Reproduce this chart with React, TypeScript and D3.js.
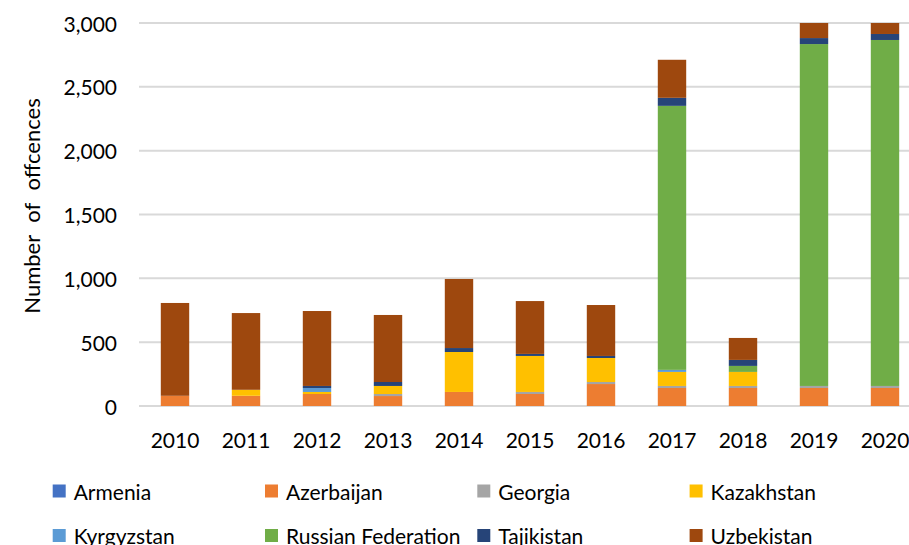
import React, { useEffect, useRef } from "react";
import * as d3 from "d3";

const years = ["2010", "2011", "2012", "2013", "2014", "2015", "2016", "2017", "2018", "2019", "2020"];
const countries = ["Armenia", "Azerbaijan", "Georgia", "Kazakhstan", "Kyrgyzstan", "Russian Federation", "Tajikistan", "Uzbekistan"];
const colors = ["#4472C4", "#ED7D31", "#A5A5A5", "#FFC000", "#5B9BD5", "#70AD47", "#264478", "#9E480E"];

const armenia = [0, 0, 0, 0, 0, 0, 0, 0, 0, 0, 0];
const azerbaijan = [80, 80, 94, 78, 110, 94, 172, 141, 141, 141, 141];
const georgia = [0, 0, 0, 16, 0, 16, 16, 16, 16, 16, 16];
const kazakhstan = [0, 47, 16, 63, 313, 282, 188, 110, 110, 0, 0];
const kyrgyzstan = [0, 0, 31, 0, 0, 0, 0, 16, 0, 0, 0];
const russia = [0, 0, 0, 0, 0, 0, 0, 2068, 47, 2678, 2710];
const tajikistan = [0, 0, 16, 31, 31, 16, 16, 63, 47, 47, 47];
const uzbekistan = [727, 601, 587, 525, 541, 414, 399, 298, 172, 150, 120];

const series = [armenia, azerbaijan, georgia, kazakhstan, kyrgyzstan, russia, tajikistan, uzbekistan];
const yTicks = [0, 500, 1000, 1500, 2000, 2500, 3000];

const width = 909;
const height = 545;
const font = "Lato, 'Open Sans', sans-serif";

const App = () => {
  const chart = useRef<SVGSVGElement>(null);

  useEffect(() => {
    const svg = d3.select(chart.current);
    svg.selectAll("*").remove();

    const rows = years.map((year, i) => {
      const row: any = { year };
      countries.forEach((c, j) => (row[c] = series[j][i]));
      return row;
    });
    const stacked = d3.stack().keys(countries)(rows);

    const x = d3.scaleBand().domain(years).range([139.5, 920.5]).paddingInner(0.6).paddingOuter(0.3);
    const y = d3.scaleLinear().domain([0, 3000]).range([406, 23]);

    svg
      .append("defs")
      .append("clipPath")
      .attr("id", "plot-clip")
      .append("rect")
      .attr("x", 0)
      .attr("y", y(3000))
      .attr("width", width)
      .attr("height", y(0) - y(3000));

    // gridlines
    svg
      .append("g")
      .selectAll("line")
      .data(yTicks)
      .join("line")
      .attr("x1", 139)
      .attr("x2", width)
      .attr("y1", d => y(d))
      .attr("y2", d => y(d))
      .attr("stroke", "#D9D9D9")
      .attr("stroke-width", 2);

    // y labels
    svg
      .append("g")
      .selectAll("text")
      .data(yTicks)
      .join("text")
      .attr("x", 117)
      .attr("y", d => y(d))
      .attr("text-anchor", "end")
      .attr("dominant-baseline", "central")
      .attr("font-family", font)
      .attr("font-size", 21)
      .attr("fill", "#000")
      .text(d => d3.format(",")(d));

    svg
      .append("text")
      .attr("transform", `translate(40,206) rotate(-90)`)
      .attr("text-anchor", "middle")
      .attr("font-family", font)
      .attr("font-size", 22)
      .attr("word-spacing", 7)
      .attr("fill", "#000")
      .text("Number of offcences");

    // bars
    svg
      .append("g")
      .attr("clip-path", "url(#plot-clip)")
      .selectAll("g")
      .data(stacked)
      .join("g")
      .attr("fill", (d, i) => colors[i])
      .selectAll("rect")
      .data(d => d)
      .join("rect")
      .attr("x", d => x(d.data.year as any) as number)
      .attr("width", x.bandwidth())
      .attr("y", d => y(d[1]))
      .attr("height", d => y(d[0]) - y(d[1]));

    // x labels
    svg
      .append("g")
      .selectAll("text")
      .data(years)
      .join("text")
      .attr("x", d => (x(d) as number) + x.bandwidth() / 2)
      .attr("y", 439)
      .attr("text-anchor", "middle")
      .attr("dominant-baseline", "central")
      .attr("font-family", font)
      .attr("font-size", 21)
      .attr("fill", "#000")
      .text(d => d);

    // legend (second row is cut by the bottom edge, as in the original)
    const legend = svg
      .append("g")
      .selectAll("g")
      .data(countries)
      .join("g")
      .attr("transform", (d, i) => `translate(${52.7 + (i % 4) * 212.3},${491 + Math.floor(i / 4) * 44.5})`);

    legend
      .append("rect")
      .attr("x", 0)
      .attr("y", -6.5)
      .attr("width", 13)
      .attr("height", 13)
      .attr("fill", (d, i) => colors[i]);

    legend
      .append("text")
      .attr("x", 21)
      .attr("y", 0)
      .attr("dominant-baseline", "central")
      .attr("font-family", font)
      .attr("font-size", 21)
      .attr("fill", "#000")
      .text(d => d);
  }, []);

  return (
    <svg
      ref={chart}
      width={width}
      height={height}
      style={{ position: "absolute", left: 0, top: 0, background: "#fff" }}
    ></svg>
  );
};

export default App;
